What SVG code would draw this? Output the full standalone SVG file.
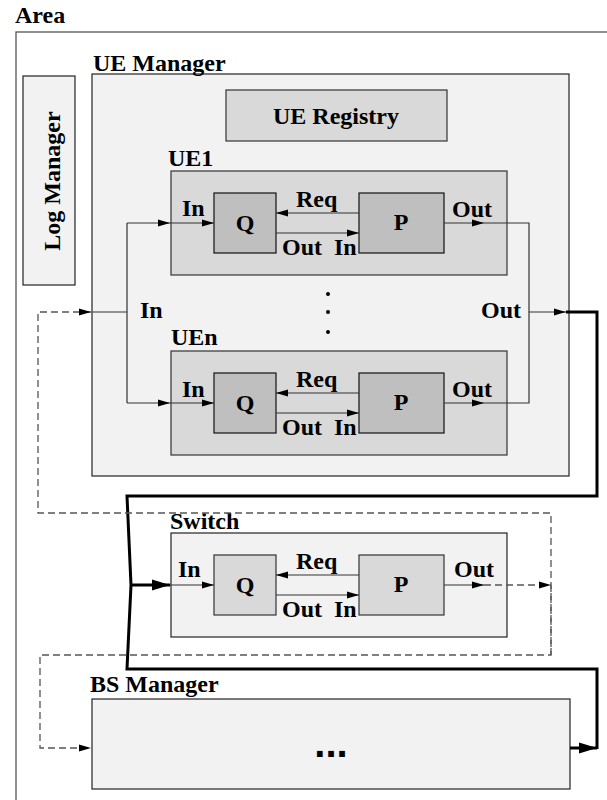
<svg xmlns="http://www.w3.org/2000/svg" width="607" height="800" viewBox="0 0 607 800">
  <style>
    text { font-family: "Liberation Serif", "Times New Roman", serif; font-weight: bold; font-size: 24px; fill: #000; }
    .mid { text-anchor: middle; }
    .frame { fill: #fff; stroke: #555; stroke-width: 1.3; }
    .light { fill: #f2f2f2; stroke: #222; stroke-width: 1.2; }
    .mid-fill { fill: #d9d9d9; stroke: #333; stroke-width: 1.2; }
    .dark { fill: #bfbfbf; stroke: #111; stroke-width: 1.2; }
    .wire { fill: none; stroke: #333; stroke-width: 1.2; }
    .bus { fill: none; stroke: #000; stroke-width: 3; stroke-linejoin: miter; }
    .dash { fill: none; stroke: #555; stroke-width: 1.3; stroke-dasharray: 7 4; }
  </style>
  <defs>
    <marker id="ah" markerUnits="userSpaceOnUse" markerWidth="12" markerHeight="8" refX="12" refY="4" orient="auto">
      <path d="M0,0.5 L12,4 L0,7.5 Z" fill="#000"/>
    </marker>
    <marker id="ahBig" markerUnits="userSpaceOnUse" markerWidth="18" markerHeight="12" refX="18" refY="6" orient="auto">
      <path d="M0,0.5 L18,6 L0,11.5 Z" fill="#000"/>
    </marker>
  </defs>

  <!-- outer area -->
  <g id="area">
    <rect class="frame" x="16" y="32" width="600" height="780"/>
    <text x="15" y="23">Area</text>
  </g>

  <g id="log-manager">
    <rect class="light" x="23" y="76" width="52" height="209"/>
    <text class="mid" transform="translate(60,181) rotate(-90)">Log Manager</text>
  </g>

  <g id="ue-manager">
    <rect class="light" x="92" y="74" width="477" height="402"/>
    <text x="93" y="71">UE Manager</text>
    <text x="140" y="318">In</text>
    <text x="481" y="318">Out</text>
    <circle cx="328" cy="294" r="2" fill="#000"/>
    <circle cx="328" cy="312" r="2" fill="#000"/>
    <circle cx="328" cy="332" r="2" fill="#000"/>
  </g>

  <g id="ue-registry">
    <rect class="mid-fill" x="226" y="90" width="221" height="51"/>
    <text class="mid" x="336" y="124">UE Registry</text>
  </g>

  <g id="ue1">
    <rect class="mid-fill" x="171" y="171" width="336" height="104"/>
    <text x="168" y="166">UE1</text>
    <rect class="dark" x="214" y="193" width="62" height="60"/>
    <text class="mid" x="245" y="231">Q</text>
    <rect class="dark" x="359" y="193" width="85" height="60"/>
    <text class="mid" x="401" y="230">P</text>
    <text x="182" y="216">In</text>
    <text x="296" y="207">Req</text>
    <text x="282" y="255">Out</text>
    <text x="334" y="255">In</text>
    <text x="452" y="217">Out</text>
  </g>

  <g id="uen">
    <rect class="mid-fill" x="171" y="351" width="336" height="104"/>
    <text x="171" y="345">UEn</text>
    <rect class="dark" x="214" y="373" width="62" height="60"/>
    <text class="mid" x="245" y="411">Q</text>
    <rect class="dark" x="359" y="373" width="85" height="60"/>
    <text class="mid" x="401" y="410">P</text>
    <text x="182" y="397">In</text>
    <text x="296" y="387">Req</text>
    <text x="282" y="435">Out</text>
    <text x="334" y="435">In</text>
    <text x="452" y="397">Out</text>
  </g>

  <g id="switch">
    <rect class="light" x="171" y="533" width="336" height="104"/>
    <text x="170" y="529">Switch</text>
    <rect class="mid-fill" x="214" y="555" width="62" height="60"/>
    <text class="mid" x="245" y="593">Q</text>
    <rect class="mid-fill" x="359" y="555" width="85" height="60"/>
    <text class="mid" x="401" y="592">P</text>
    <text x="178" y="577">In</text>
    <text x="296" y="569">Req</text>
    <text x="282" y="617">Out</text>
    <text x="334" y="617">In</text>
    <text x="454" y="577">Out</text>
  </g>

  <g id="bs-manager">
    <rect class="light" x="92" y="699" width="478" height="90"/>
    <text x="90" y="692">BS Manager</text>
    <text class="mid" x="331" y="757" style="font-family: 'Liberation Sans', Arial, sans-serif; font-size: 40px;">...</text>
  </g>

  <g id="connectors">
    <!-- UE manager input fan-out -->
    <path class="wire" d="M92,312 H127 M127,223 V403"/>
    <line class="wire" x1="127" y1="223" x2="170" y2="223" marker-end="url(#ah)"/>
    <line class="wire" x1="127" y1="403" x2="170" y2="403" marker-end="url(#ah)"/>

    <!-- UE1 internals -->
    <line class="wire" x1="170" y1="223" x2="214" y2="223" marker-end="url(#ah)"/>
    <line class="wire" x1="359" y1="213" x2="276" y2="213" marker-end="url(#ah)"/>
    <line class="wire" x1="276" y1="233" x2="359" y2="233" marker-end="url(#ah)"/>
    <line class="wire" x1="444" y1="223" x2="484" y2="223" marker-end="url(#ah)"/>

    <!-- UEn internals -->
    <line class="wire" x1="170" y1="403" x2="214" y2="403" marker-end="url(#ah)"/>
    <line class="wire" x1="359" y1="393" x2="276" y2="393" marker-end="url(#ah)"/>
    <line class="wire" x1="276" y1="413" x2="359" y2="413" marker-end="url(#ah)"/>
    <line class="wire" x1="444" y1="403" x2="484" y2="403" marker-end="url(#ah)"/>

    <!-- UE outputs merge -->
    <path class="wire" d="M484,223 H529 V403 H484"/>
    <line class="wire" x1="529" y1="312" x2="566" y2="312" marker-end="url(#ah)"/>

    <!-- main bus from UE manager to switch and from BS manager back -->
    <path class="bus" d="M566,312 H597 V496 H127 L131,585 L127,669 H597 V749"/>
    <line class="bus" x1="131" y1="585" x2="170" y2="585" marker-end="url(#ahBig)"/>
    <line class="bus" x1="570" y1="748" x2="597" y2="748" marker-end="url(#ahBig)"/>

    <!-- switch internals -->
    <line class="wire" x1="170" y1="585" x2="214" y2="585" marker-end="url(#ah)"/>
    <line class="wire" x1="359" y1="575" x2="276" y2="575" marker-end="url(#ah)"/>
    <line class="wire" x1="276" y1="595" x2="359" y2="595" marker-end="url(#ah)"/>
    <line class="wire" x1="444" y1="585" x2="484" y2="585" marker-end="url(#ah)"/>

    <!-- switch output fed back to managers -->
    <line class="dash" x1="484" y1="585" x2="551" y2="585" marker-end="url(#ah)"/>
    <path class="dash" d="M551,655 V513 H38 V312 H91" marker-end="url(#ah)"/>
    <path class="dash" d="M551,585 V655 H40 V748 H91" marker-end="url(#ah)"/>
  </g>
</svg>
